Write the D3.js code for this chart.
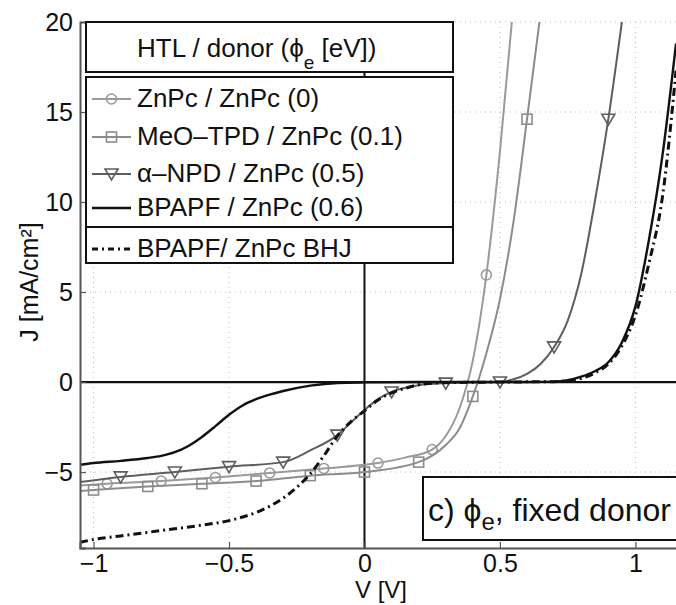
<!DOCTYPE html>
<html>
<head>
<meta charset="utf-8">
<title>J-V curves, fixed donor</title>
<script src="https://d3js.org/d3.v7.min.js"></script>
<style>
  body { margin: 0; background: #fff; }
  svg text { font-family: "Liberation Sans", Arial, Helvetica, sans-serif; fill: #111; }
</style>
</head>
<body>
<div id="chart"></div>
<script>
// values: V in volts, J in mA/cm2
const V_ZNPC = [-1.05, -0.95, -0.75, -0.55, -0.35, -0.15, 0.05, 0.15, 0.25, 0.3, 0.35, 0.4, 0.45, 0.5, 0.55];
const J_ZNPC = [-5.75, -5.65, -5.5, -5.3, -5.05, -4.8, -4.5, -4.2, -3.75, -3.0, -1.5, 1.2, 5.95, 12.8, 21];
const MARK_ZNPC = [-0.95, -0.75, -0.55, -0.35, -0.15, 0.05, 0.25, 0.45];

const V_MEO = [-1.05, -1.0, -0.8, -0.6, -0.4, -0.2, 0, 0.2, 0.3, 0.35, 0.4, 0.45, 0.5, 0.55, 0.6, 0.65];
const J_MEO = [-6.05, -6.0, -5.8, -5.65, -5.5, -5.2, -5.0, -4.45, -3.5, -2.6, -0.8, 1.6, 4.6, 8.9, 14.6, 20.5];
const MARK_MEO = [-1.0, -0.8, -0.6, -0.4, -0.2, 0, 0.2, 0.4, 0.6];

const V_NPD = [-1.05, -0.9, -0.7, -0.5, -0.3, -0.2, -0.1, -0.05, 0, 0.05, 0.1, 0.2, 0.3, 0.4, 0.5, 0.55, 0.6, 0.65, 0.7, 0.75, 0.8, 0.85, 0.9, 0.95];
const J_NPD = [-5.55, -5.27, -5.0, -4.7, -4.45, -3.8, -2.95, -2.25, -1.55, -0.95, -0.55, -0.18, -0.06, -0.02, 0, 0.15, 0.45, 1.0, 1.95, 3.4, 6.0, 10.0, 14.6, 20.0];
const MARK_NPD = [-0.9, -0.7, -0.5, -0.3, -0.1, 0.1, 0.3, 0.5, 0.7, 0.9];

const V_BPAPF = [-1.05, -1.0, -0.9, -0.8, -0.75, -0.7, -0.65, -0.6, -0.55, -0.5, -0.45, -0.4, -0.35, -0.3, -0.2, -0.1, 0, 0.2, 0.4, 0.6, 0.7, 0.75, 0.8, 0.85, 0.9, 0.95, 1.0, 1.05, 1.1, 1.15];
const J_BPAPF = [-4.6, -4.5, -4.38, -4.22, -4.1, -3.9, -3.55, -3.05, -2.45, -1.82, -1.3, -0.95, -0.7, -0.5, -0.2, -0.05, -0.02, 0, 0, 0, 0.02, 0.1, 0.3, 0.6, 1.1, 2.2, 4.2, 7.9, 12.6, 18.8];

const V_BHJ = [-1.05, -1.0, -0.9, -0.8, -0.7, -0.6, -0.5, -0.45, -0.4, -0.35, -0.3, -0.25, -0.2, -0.15, -0.1, -0.05, 0, 0.05, 0.1, 0.15, 0.2, 0.3, 0.5, 0.7, 0.8, 0.85, 0.9, 0.95, 1.0, 1.05, 1.1, 1.15];
const J_BHJ = [-8.9, -8.75, -8.55, -8.35, -8.15, -7.95, -7.7, -7.5, -7.25, -6.9, -6.45, -5.85, -5.1, -4.1, -3.0, -2.2, -1.6, -1.0, -0.6, -0.35, -0.15, -0.04, 0, 0.02, 0.2, 0.5, 1.0, 2.0, 3.7, 6.6, 10.3, 17.3];

const X_TICKS = [-1, -0.5, 0, 0.5, 1];
const Y_TICKS = [-5, 0, 5, 10, 15, 20];

const width = 676, height = 605;
const pLeft = 80, pRight = 682, pTop = 22, pBottom = 548;

const svg = d3.select('#chart').append('svg')
  .attr('width', width)
  .attr('height', height);

const x = d3.scaleLinear().domain([-1.05, 1.172]).range([pLeft, pRight]);
const y = d3.scaleLinear().domain([-9.22, 20]).range([pBottom, pTop]);

const fmt = d => d === 0 ? '0' : (d < 0 ? '\u2212' + Math.abs(d) : String(d));

svg.append('clipPath').attr('id', 'plot-clip')
  .append('rect')
  .attr('x', pLeft).attr('y', pTop)
  .attr('width', pRight - pLeft).attr('height', pBottom - pTop);

// dotted grid
const grid = svg.append('g').attr('stroke', '#bdbdbd').attr('stroke-width', 1).attr('stroke-dasharray', '1,4');
grid.selectAll('.gx').data(X_TICKS.filter(d => d !== 0)).join('line')
  .attr('x1', d => x(d)).attr('x2', d => x(d))
  .attr('y1', pTop).attr('y2', pBottom);
grid.selectAll('.gy').data(Y_TICKS.filter(d => d !== 0)).join('line')
  .attr('x1', pLeft).attr('x2', pRight)
  .attr('y1', d => y(d)).attr('y2', d => y(d));

// zero lines
svg.append('line')
  .attr('x1', pLeft).attr('x2', pRight)
  .attr('y1', y(0)).attr('y2', y(0))
  .attr('stroke', '#111').attr('stroke-width', 2.2);
svg.append('line')
  .attr('x1', x(0)).attr('x2', x(0))
  .attr('y1', pTop).attr('y2', pBottom)
  .attr('stroke', '#111').attr('stroke-width', 2);

const series = [
  {name: 'ZnPc / ZnPc (0)', v: V_ZNPC, j: J_ZNPC, marks: MARK_ZNPC, marker: 'circle', color: '#9a9a9a', width: 2},
  {name: 'MeO\u2013TPD / ZnPc (0.1)', v: V_MEO, j: J_MEO, marks: MARK_MEO, marker: 'square', color: '#8c8c8c', width: 2},
  {name: '\u03b1\u2013NPD / ZnPc (0.5)', v: V_NPD, j: J_NPD, marks: MARK_NPD, marker: 'tri', color: '#5e5e5e', width: 2},
  {name: 'BPAPF / ZnPc (0.6)', v: V_BPAPF, j: J_BPAPF, marks: [], marker: null, color: '#111', width: 2.4},
  {name: 'BPAPF/ ZnPc BHJ', v: V_BHJ, j: J_BHJ, marks: [], marker: null, color: '#111', width: 3, dash: '8,4,2,4'}
];

const line = d3.line()
  .x(d => x(d[0]))
  .y(d => y(d[1]))
  .curve(d3.curveMonotoneX);

function drawMarker(g, type, cx, cy, color) {
  if (type === 'circle') {
    g.append('circle').attr('cx', cx).attr('cy', cy).attr('r', 5)
      .attr('fill', 'none').attr('stroke', color).attr('stroke-width', 1.6);
  } else if (type === 'square') {
    g.append('rect').attr('x', cx - 5).attr('y', cy - 5).attr('width', 10).attr('height', 10)
      .attr('fill', 'none').attr('stroke', color).attr('stroke-width', 1.6);
  } else if (type === 'tri') {
    g.append('path')
      .attr('d', `M${cx - 6.5},${cy - 5}L${cx + 6.5},${cy - 5}L${cx},${cy + 6}Z`)
      .attr('fill', 'none').attr('stroke', color).attr('stroke-width', 1.6);
  }
}

const plot = svg.append('g').attr('clip-path', 'url(#plot-clip)');
series.forEach(s => {
  const pts = s.v.map((v, i) => [v, s.j[i]]);
  plot.append('path')
    .attr('d', line(pts))
    .attr('fill', 'none')
    .attr('stroke', s.color)
    .attr('stroke-width', s.width)
    .attr('stroke-dasharray', s.dash || null);
  const mg = plot.append('g');
  pts.filter(p => s.marks.includes(p[0]))
    .forEach(p => drawMarker(mg, s.marker, x(p[0]), y(p[1]), s.color));
});

// axes
const xAxis = svg.append('g')
  .attr('transform', `translate(0,${pBottom})`)
  .call(d3.axisBottom(x).tickValues(X_TICKS).tickSize(-6).tickPadding(6).tickFormat(fmt));
const yAxis = svg.append('g')
  .attr('transform', `translate(${pLeft},0)`)
  .call(d3.axisLeft(y).tickValues(Y_TICKS).tickSize(-6).tickPadding(7).tickFormat(fmt));
[xAxis, yAxis].forEach(a => {
  a.select('.domain').attr('stroke', '#555').attr('stroke-width', 2);
  a.selectAll('.tick line').attr('stroke', '#555').attr('stroke-width', 1.2);
  a.selectAll('.tick text').attr('font-size', 25).attr('fill', '#111')
    .style('font-family', '"Liberation Sans", Arial, sans-serif');
});

svg.append('text')
  .attr('x', (pLeft + pRight) / 2).attr('y', 598)
  .attr('text-anchor', 'middle').attr('font-size', 24)
  .text('V [V]');

svg.append('text')
  .attr('transform', 'translate(38,282) rotate(-90)')
  .attr('text-anchor', 'middle').attr('font-size', 25)
  .text('J [mA/cm\u00b2]');

// legend
const leg = svg.append('g');
leg.append('rect').attr('x', 86).attr('y', 22).attr('width', 367).attr('height', 50)
  .attr('fill', '#fff').attr('stroke', '#111').attr('stroke-width', 2);
const title = leg.append('text').attr('x', 137).attr('y', 57).attr('font-size', 26);
title.append('tspan').text('HTL / donor (\u03d5');
title.append('tspan').attr('font-size', 19).attr('dy', 12).text('e');
title.append('tspan').attr('dy', -12).text(' [eV])');

leg.append('rect').attr('x', 86).attr('y', 77).attr('width', 367).attr('height', 186)
  .attr('fill', '#fff').attr('stroke', '#111').attr('stroke-width', 2);
leg.append('line').attr('x1', 86).attr('x2', 453).attr('y1', 227).attr('y2', 227)
  .attr('stroke', '#111').attr('stroke-width', 2);

const legY = [99, 137, 174, 208, 249];
series.forEach((s, i) => {
  const ly = legY[i];
  leg.append('line').attr('x1', 92).attr('x2', 131).attr('y1', ly).attr('y2', ly)
    .attr('stroke', s.color).attr('stroke-width', s.width)
    .attr('stroke-dasharray', s.dash ? '6,4,2,4' : null);
  if (s.marker) drawMarker(leg, s.marker, 111.5, ly, s.color);
  leg.append('text').attr('x', 137).attr('y', ly + 8).attr('font-size', 26).text(s.name);
});

// panel label
svg.append('rect').attr('x', 423).attr('y', 477).attr('width', 260).attr('height', 63)
  .attr('fill', '#fff').attr('stroke', '#111').attr('stroke-width', 2);
const lab = svg.append('text').attr('x', 428).attr('y', 521).attr('font-size', 32);
lab.append('tspan').text('c) \u03d5');
lab.append('tspan').attr('font-size', 24).attr('dy', 9).text('e');
lab.append('tspan').attr('dy', -9).text(', fixed donor');
</script>
</body>
</html>
